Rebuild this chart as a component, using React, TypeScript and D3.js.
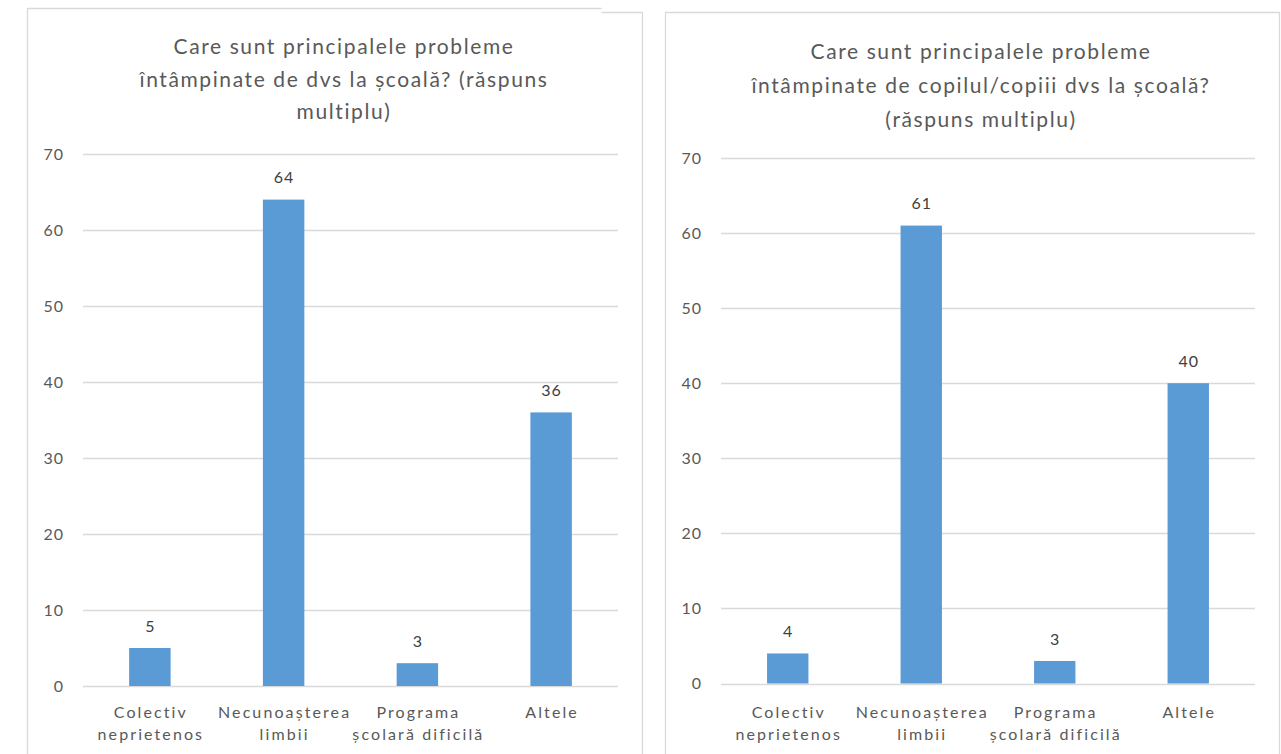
import React, { useEffect, useRef } from 'react';
import * as d3 from 'd3';

const WIDTH = 1281;
const HEIGHT = 754;

const categories = [
  ['Colectiv', 'neprietenos'],
  ['Necunoașterea', 'limbii'],
  ['Programa', 'școlară dificilă'],
  ['Altele'],
];
const valuesSelf = [5, 64, 3, 36];
const valuesChild = [4, 61, 3, 40];
const yTicks = [0, 10, 20, 30, 40, 50, 60, 70];
const titleSelf = [
  'Care sunt principalele probleme',
  'întâmpinate de dvs la școală? (răspuns',
  'multiplu)',
];
const titleChild = [
  'Care sunt principalele probleme',
  'întâmpinate de copilul/copiii dvs la școală?',
  '(răspuns multiplu)',
];

const FONT = 'Lato, "Open Sans", sans-serif';
const BAR = '#5b9bd5';
const GRID = '#d9d9d9';
const TEXT = '#595959';

type Layout = {
  left: number;
  right: number;
  top: number;
  bottom: number;
  titleX: number;
  titleY: number[];
};

const layoutSelf: Layout = { left: 83, right: 618, top: 154, bottom: 686, titleX: 343, titleY: [47, 80, 112] };
const layoutChild: Layout = { left: 721, right: 1255, top: 158, bottom: 683.5, titleX: 980, titleY: [52, 86, 120] };

const drawChart = (
  svg: d3.Selection<SVGSVGElement, unknown, null, undefined>,
  values: number[],
  title: string[],
  L: Layout
) => {
  const names = categories.map((c) => c.join(' '));
  const g = svg.append('g');

  const xScale = d3
    .scaleBand()
    .domain(names)
    .range([L.left, L.right])
    .paddingInner(0.69)
    .paddingOuter(0.345);

  const yScale = d3.scaleLinear().domain([0, 70]).range([L.bottom, L.top]);

  // gridlines
  g.selectAll('.grid')
    .data(yTicks)
    .enter()
    .append('line')
    .attr('x1', L.left)
    .attr('x2', L.right)
    .attr('y1', (d) => Math.round(yScale(d)) + 0.5)
    .attr('y2', (d) => Math.round(yScale(d)) + 0.5)
    .attr('stroke', GRID)
    .attr('stroke-width', 1.3);

  // y axis
  const yAxis = d3.axisLeft(yScale).tickValues(yTicks).tickSize(0).tickPadding(19);
  const ya = g.append('g').attr('transform', `translate(${L.left}, 0)`).call(yAxis);
  ya.select('.domain').remove();
  ya.selectAll('.tick text')
    .attr('fill', TEXT)
    .style('font-family', FONT)
    .style('font-size', '16px')
    .style('letter-spacing', '1px');

  // bars
  g.selectAll('.bar')
    .data(values)
    .enter()
    .append('rect')
    .attr('x', (_, i) => xScale(names[i])!)
    .attr('y', (d) => yScale(d))
    .attr('width', xScale.bandwidth())
    .attr('height', (d) => yScale(0) - yScale(d))
    .attr('fill', BAR);

  // value labels
  g.selectAll('.val')
    .data(values)
    .enter()
    .append('text')
    .attr('x', (_, i) => xScale(names[i])! + xScale.bandwidth() / 2 + 0.5)
    .attr('y', (d) => yScale(d) - 22)
    .attr('dy', '.35em')
    .style('text-anchor', 'middle')
    .style('font-family', FONT)
    .style('font-size', '16px')
    .style('letter-spacing', '1px')
    .style('fill', '#404040')
    .text((d) => d);

  // category labels
  categories.forEach((lines, i) => {
    lines.forEach((line, j) => {
      g.append('text')
        .attr('x', xScale(names[i])! + xScale.bandwidth() / 2 + 1)
        .attr('y', 712 + j * 22)
        .attr('dy', '.35em')
        .style('text-anchor', 'middle')
        .style('font-family', FONT)
        .style('font-size', '16px')
        .style('letter-spacing', '2.1px')
        .style('fill', TEXT)
        .text(line);
    });
  });

  // title
  title.forEach((line, j) => {
    g.append('text')
      .attr('x', L.titleX + 1)
      .attr('y', L.titleY[j])
      .attr('dy', '.35em')
      .style('text-anchor', 'middle')
      .style('font-family', FONT)
      .style('font-size', '21px')
      .style('letter-spacing', '1.6px')
      .style('fill', TEXT)
      .text(line);
  });
};

export default function App() {
  const ref = useRef<SVGSVGElement>(null);

  useEffect(() => {
    if (!ref.current) return;
    const svg = d3.select(ref.current);
    svg.selectAll('*').remove();

    svg.append('rect').attr('width', WIDTH).attr('height', HEIGHT).attr('fill', 'white');

    // panel frames
    const frame = svg.append('g').attr('stroke', GRID).attr('stroke-width', 1.3).attr('fill', 'none');
    frame.append('path').attr('d', 'M27.5,754 V8.5 H601.5');
    frame.append('path').attr('d', 'M601.5,12.5 H642.5 V754');
    frame.append('path').attr('d', 'M665.5,754 V12.5 H1279.5 V754');

    drawChart(svg, valuesSelf, titleSelf, layoutSelf);
    drawChart(svg, valuesChild, titleChild, layoutChild);
  }, []);

  return (
    <svg
      ref={ref}
      width={WIDTH}
      height={HEIGHT}
      style={{ position: 'absolute', left: 0, top: 0 }}
    />
  );
}
